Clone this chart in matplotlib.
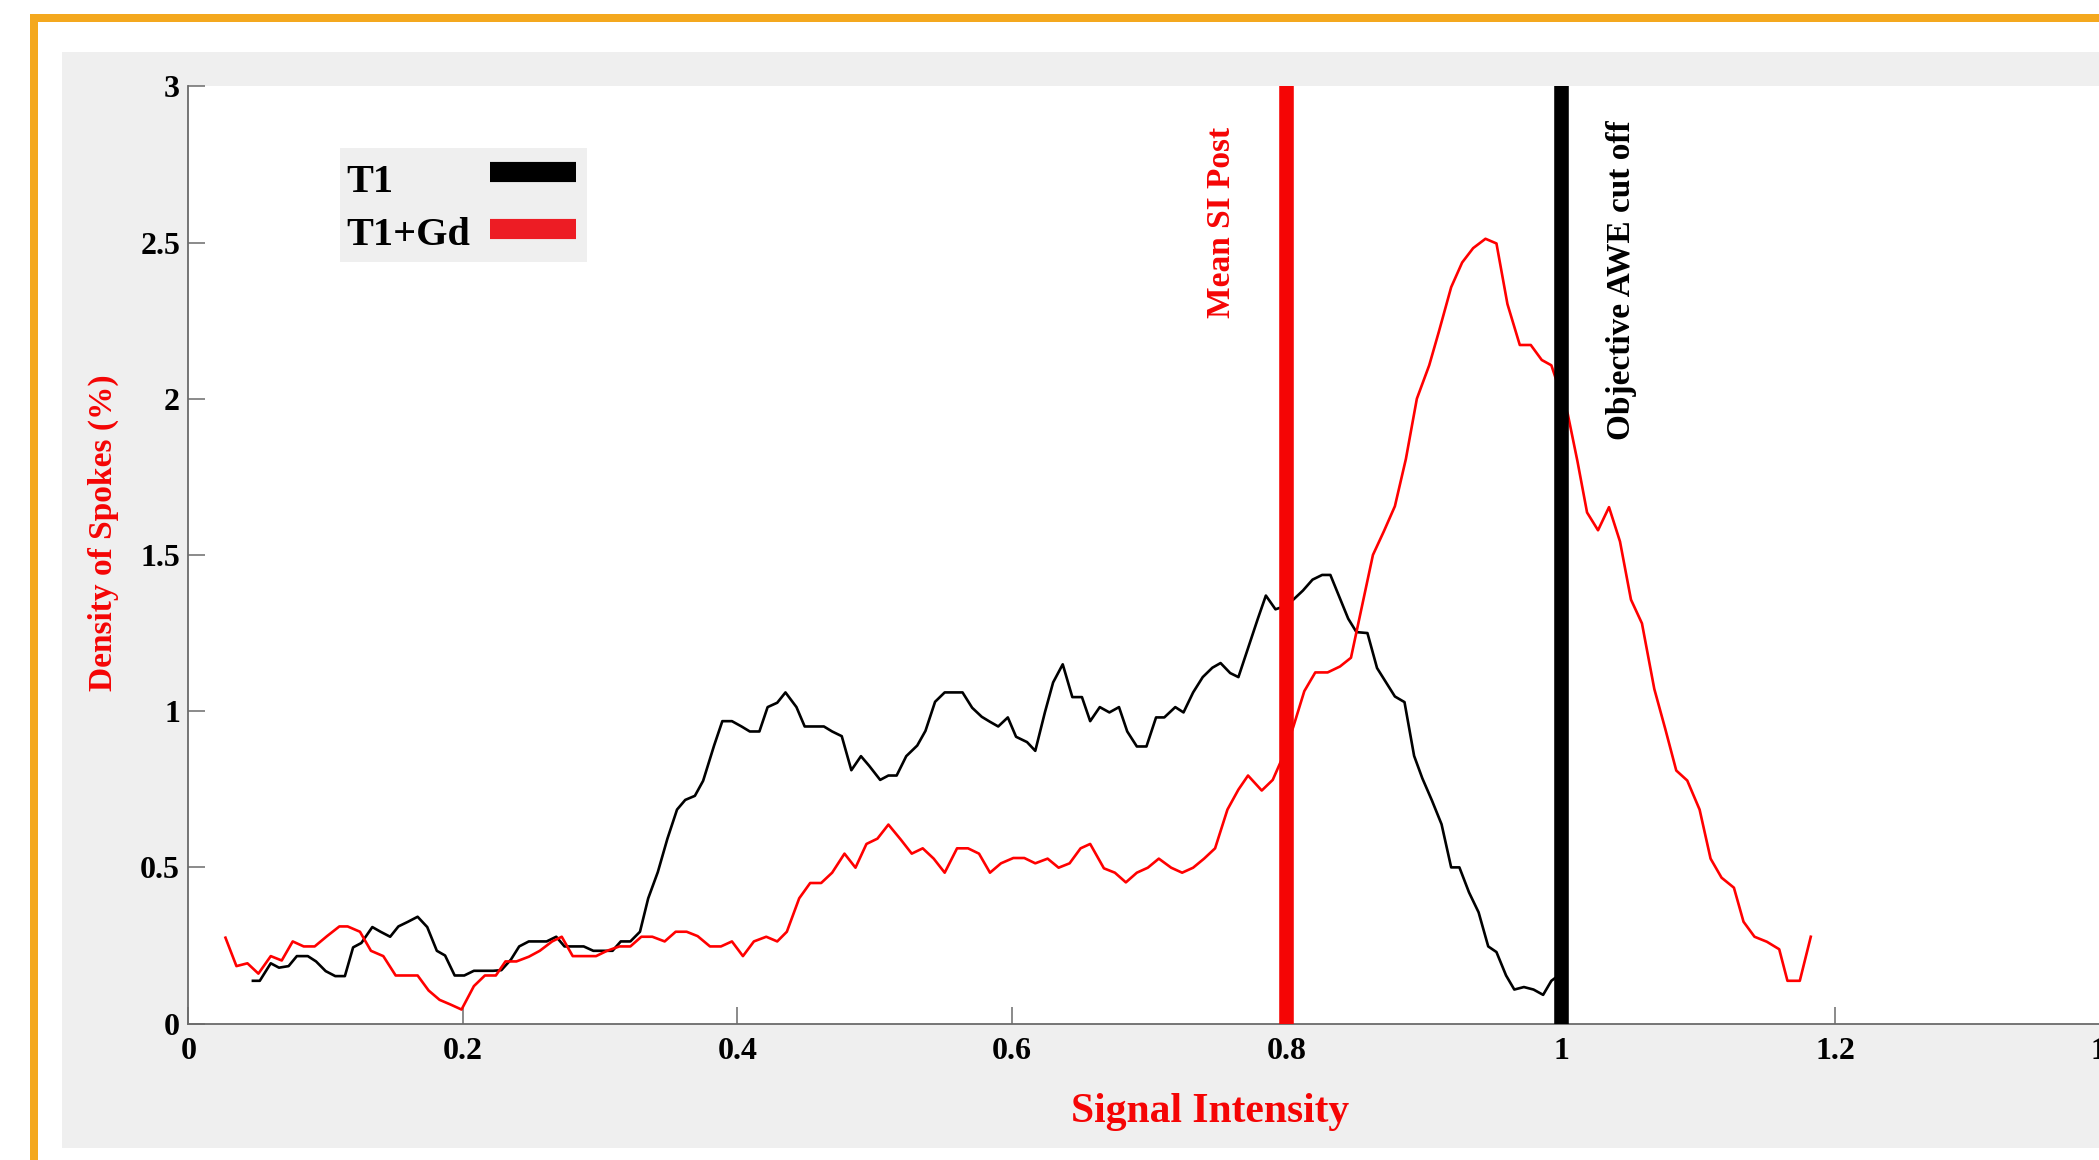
import matplotlib.pyplot as plt
from matplotlib.patches import Rectangle

# Datos (T1 = negro, T1+Gd = rojo)
si_t1 = [0.047, 0.052, 0.060, 0.066, 0.073, 0.079, 0.087, 0.093, 0.100, 0.107,
         0.114, 0.120, 0.126, 0.134, 0.140, 0.147, 0.153, 0.160, 0.167, 0.174,
         0.181, 0.187, 0.194, 0.201, 0.208, 0.215, 0.222, 0.228, 0.235, 0.241,
         0.248, 0.254, 0.261, 0.268, 0.274, 0.281, 0.288, 0.295, 0.302, 0.309,
         0.315, 0.322, 0.329, 0.335, 0.342, 0.349, 0.356, 0.362, 0.369, 0.375,
         0.383, 0.389, 0.396, 0.403, 0.409, 0.416, 0.422, 0.429, 0.435, 0.443,
         0.449, 0.456, 0.463, 0.469, 0.476, 0.483, 0.490, 0.496, 0.504, 0.510,
         0.516, 0.523, 0.531, 0.537, 0.544, 0.551, 0.557, 0.564, 0.571, 0.578,
         0.584, 0.590, 0.597, 0.603, 0.611, 0.617, 0.624, 0.630, 0.637, 0.644,
         0.651, 0.657, 0.664, 0.671, 0.678, 0.684, 0.691, 0.698, 0.705, 0.711,
         0.719, 0.725, 0.732, 0.739, 0.746, 0.752, 0.759, 0.765, 0.772, 0.779,
         0.785, 0.792, 0.798, 0.805, 0.812, 0.819, 0.826, 0.832, 0.838, 0.845,
         0.851, 0.859, 0.866, 0.872, 0.879, 0.886, 0.893, 0.899, 0.906, 0.913,
         0.920, 0.926, 0.933, 0.940, 0.947, 0.953, 0.960, 0.966, 0.973, 0.980,
         0.987, 0.993, 0.997]
dens_t1 = [0.137, 0.137, 0.193, 0.179, 0.184, 0.216, 0.216, 0.199, 0.168, 0.152,
           0.152, 0.244, 0.258, 0.309, 0.294, 0.278, 0.311, 0.326, 0.342, 0.309,
           0.233, 0.218, 0.154, 0.154, 0.169, 0.169, 0.169, 0.171, 0.205, 0.247,
           0.263, 0.263, 0.263, 0.278, 0.247, 0.247, 0.247, 0.233, 0.233, 0.233,
           0.263, 0.263, 0.294, 0.401, 0.485, 0.592, 0.685, 0.716, 0.729, 0.777,
           0.890, 0.968, 0.968, 0.951, 0.935, 0.935, 1.013, 1.027, 1.060, 1.013,
           0.951, 0.951, 0.951, 0.935, 0.920, 0.811, 0.856, 0.825, 0.780, 0.794,
           0.794, 0.856, 0.890, 0.937, 1.030, 1.060, 1.060, 1.060, 1.011, 0.982,
           0.966, 0.951, 0.980, 0.918, 0.901, 0.873, 0.996, 1.092, 1.150, 1.045,
           1.045, 0.968, 1.013, 0.996, 1.013, 0.935, 0.887, 0.887, 0.980, 0.980,
           1.013, 0.996, 1.060, 1.109, 1.139, 1.154, 1.122, 1.109, 1.202, 1.294,
           1.370, 1.326, 1.335, 1.357, 1.386, 1.421, 1.436, 1.436, 1.371, 1.296,
           1.253, 1.250, 1.138, 1.096, 1.047, 1.029, 0.857, 0.785, 0.714, 0.638,
           0.500, 0.500, 0.420, 0.356, 0.247, 0.229, 0.154, 0.109, 0.117, 0.109,
           0.092, 0.137, 0.150]

si_gd = [0.027, 0.035, 0.043, 0.051, 0.060, 0.068, 0.076, 0.084, 0.092, 0.101,
         0.110, 0.116, 0.125, 0.133, 0.142, 0.151, 0.159, 0.167, 0.175, 0.183,
         0.191, 0.199, 0.208, 0.216, 0.224, 0.231, 0.239, 0.248, 0.256, 0.265,
         0.272, 0.280, 0.288, 0.297, 0.305, 0.314, 0.322, 0.330, 0.338, 0.347,
         0.355, 0.363, 0.371, 0.380, 0.388, 0.396, 0.404, 0.412, 0.421, 0.429,
         0.436, 0.445, 0.453, 0.461, 0.469, 0.478, 0.486, 0.494, 0.502, 0.510,
         0.519, 0.527, 0.535, 0.543, 0.551, 0.560, 0.568, 0.576, 0.584, 0.592,
         0.601, 0.609, 0.617, 0.626, 0.634, 0.642, 0.650, 0.657, 0.667, 0.675,
         0.683, 0.691, 0.699, 0.707, 0.716, 0.724, 0.732, 0.740, 0.748, 0.757,
         0.765, 0.772, 0.782, 0.790, 0.797, 0.805, 0.813, 0.821, 0.830, 0.839,
         0.847, 0.855, 0.863, 0.871, 0.879, 0.887, 0.895, 0.904, 0.911, 0.920,
         0.928, 0.936, 0.945, 0.953, 0.961, 0.970, 0.978, 0.986, 0.993, 1.005,
         1.012, 1.019, 1.027, 1.035, 1.043, 1.051, 1.059, 1.068, 1.076, 1.084,
         1.092, 1.101, 1.109, 1.117, 1.126, 1.133, 1.141, 1.150, 1.159, 1.165,
         1.174, 1.182]
dens_gd = [0.275, 0.184, 0.193, 0.160, 0.216, 0.202, 0.263, 0.247, 0.247, 0.280,
           0.311, 0.311, 0.294, 0.233, 0.216, 0.154, 0.154, 0.154, 0.106, 0.076,
           0.061, 0.045, 0.120, 0.154, 0.154, 0.199, 0.199, 0.214, 0.233, 0.263,
           0.278, 0.216, 0.216, 0.216, 0.233, 0.247, 0.247, 0.278, 0.278, 0.263,
           0.294, 0.294, 0.280, 0.247, 0.247, 0.263, 0.216, 0.263, 0.278, 0.263,
           0.294, 0.401, 0.450, 0.450, 0.483, 0.544, 0.499, 0.575, 0.592, 0.637,
           0.589, 0.544, 0.561, 0.528, 0.483, 0.561, 0.561, 0.544, 0.483, 0.513,
           0.530, 0.530, 0.513, 0.528, 0.499, 0.513, 0.561, 0.575, 0.497, 0.483,
           0.452, 0.483, 0.499, 0.528, 0.499, 0.483, 0.499, 0.528, 0.561, 0.685,
           0.749, 0.794, 0.746, 0.780, 0.850, 0.950, 1.064, 1.124, 1.124, 1.143,
           1.171, 1.336, 1.500, 1.576, 1.656, 1.807, 2.000, 2.107, 2.214, 2.357,
           2.436, 2.482, 2.512, 2.497, 2.303, 2.172, 2.172, 2.124, 2.107, 1.950,
           1.800, 1.636, 1.579, 1.653, 1.543, 1.357, 1.281, 1.071, 0.943, 0.810,
           0.778, 0.685, 0.528, 0.467, 0.435, 0.326, 0.278, 0.262, 0.238, 0.137,
           0.137, 0.278]

mean_si_post = 0.8   # linea roja
awe_cutoff = 1.0     # linea negra
series_names = ['T1', 'T1+Gd']

x_ticks = [0, 0.2, 0.4, 0.6, 0.8, 1, 1.2, 1.4]
x_tick_labels = ['0', '0.2', '0.4', '0.6', '0.8', '1', '1.2', '1.4']
y_ticks = [0, 0.5, 1, 1.5, 2, 2.5, 3]
y_tick_labels = ['0', '0.5', '1', '1.5', '2', '2.5', '3']

# Fuente tipo Times en negrita
plt.rcParams['font.family'] = ['Liberation Serif', 'DejaVu Serif']
plt.rcParams['font.weight'] = 'bold'

W, H = 2099, 1160
fig = plt.figure(figsize=(W / 100, H / 100), dpi=100)
fig.patch.set_facecolor('white')

# Panel gris de fondo y marco naranja
fig.add_artist(Rectangle((62 / W, 12 / H), 1.0, 1096 / H, transform=fig.transFigure,
                         facecolor='#efefef', edgecolor='none', zorder=0))
fig.add_artist(Rectangle((30 / W, 0), 8 / W, 1146 / H, transform=fig.transFigure,
                         facecolor='#f4a81e', edgecolor='none', zorder=1))
fig.add_artist(Rectangle((30 / W, 1138 / H), 1.0, 8 / H, transform=fig.transFigure,
                         facecolor='#f4a81e', edgecolor='none', zorder=1))

# Ejes (el lado derecho queda recortado como en la imagen original)
ax = fig.add_axes([188.4 / W, 136.4 / H, 1921.6 / W, 937.3 / H])
ax.set_facecolor('white')

ax.plot(si_t1, dens_t1, color='black', lw=1.9, zorder=3)
ax.plot(si_gd, dens_gd, color='#ff0000', lw=1.9, zorder=3)

# Lineas verticales de referencia
ax.axvline(mean_si_post, color='#f50505', lw=10.5, zorder=4)
ax.axvline(awe_cutoff, color='black', lw=10.5, zorder=4)
ax.text(mean_si_post - 0.047, 2.87, 'Mean SI Post', rotation=90, ha='center', va='top',
        color='#f50505', fontsize=24, fontweight='bold')
ax.text(awe_cutoff + 0.044, 2.89, 'Objective AWE cut off', rotation=90, ha='center',
        va='top', color='black', fontsize=24, fontweight='bold')

ax.set_xlim(0, 1.4)
ax.set_ylim(0, 3)
ax.set_xticks(x_ticks)
ax.set_xticklabels(x_tick_labels)
ax.set_yticks(y_ticks)
ax.set_yticklabels(y_tick_labels)
ax.tick_params(direction='in', length=12, width=1.1, color='#6b6b6b', labelsize=23)
ax.tick_params(axis='x', pad=10)
ax.tick_params(axis='y', pad=6)
for lado in ['top', 'right']:
    ax.spines[lado].set_visible(False)
for lado in ['left', 'bottom']:
    ax.spines[lado].set_color('#6b6b6b')
    ax.spines[lado].set_linewidth(1.3)

ax.set_xlabel('Signal Intensity', color='#f50505', fontsize=30, fontweight='bold')
ax.xaxis.set_label_coords(0.5316, -0.074)
ax.set_ylabel('Density of Spokes (%)', color='#f50505', fontsize=24, fontweight='bold')
ax.yaxis.set_label_coords(-0.036, 0.5234)

# Leyenda: texto a la izquierda y barra a la derecha
ax.add_patch(Rectangle((0.0789, 0.8125), 0.1285, 0.1215, transform=ax.transAxes,
                       facecolor='#efefef', edgecolor='none', zorder=5))
colores = ['black', '#ed1c24']
y_texto = [0.8871, 0.8305]
y_barra = [0.9084, 0.8477]
for nombre, col, yt, yb in zip(series_names, colores, y_texto, y_barra):
    ax.text(0.0822, yt, nombre, transform=ax.transAxes, ha='left', va='baseline',
            fontsize=29, fontweight='bold', color='black', zorder=6)
    ax.plot([0.1569, 0.2017], [yb, yb], transform=ax.transAxes, color=col,
            lw=14.5, solid_capstyle='butt', zorder=6)

fig.savefig('out.png', dpi=100)
